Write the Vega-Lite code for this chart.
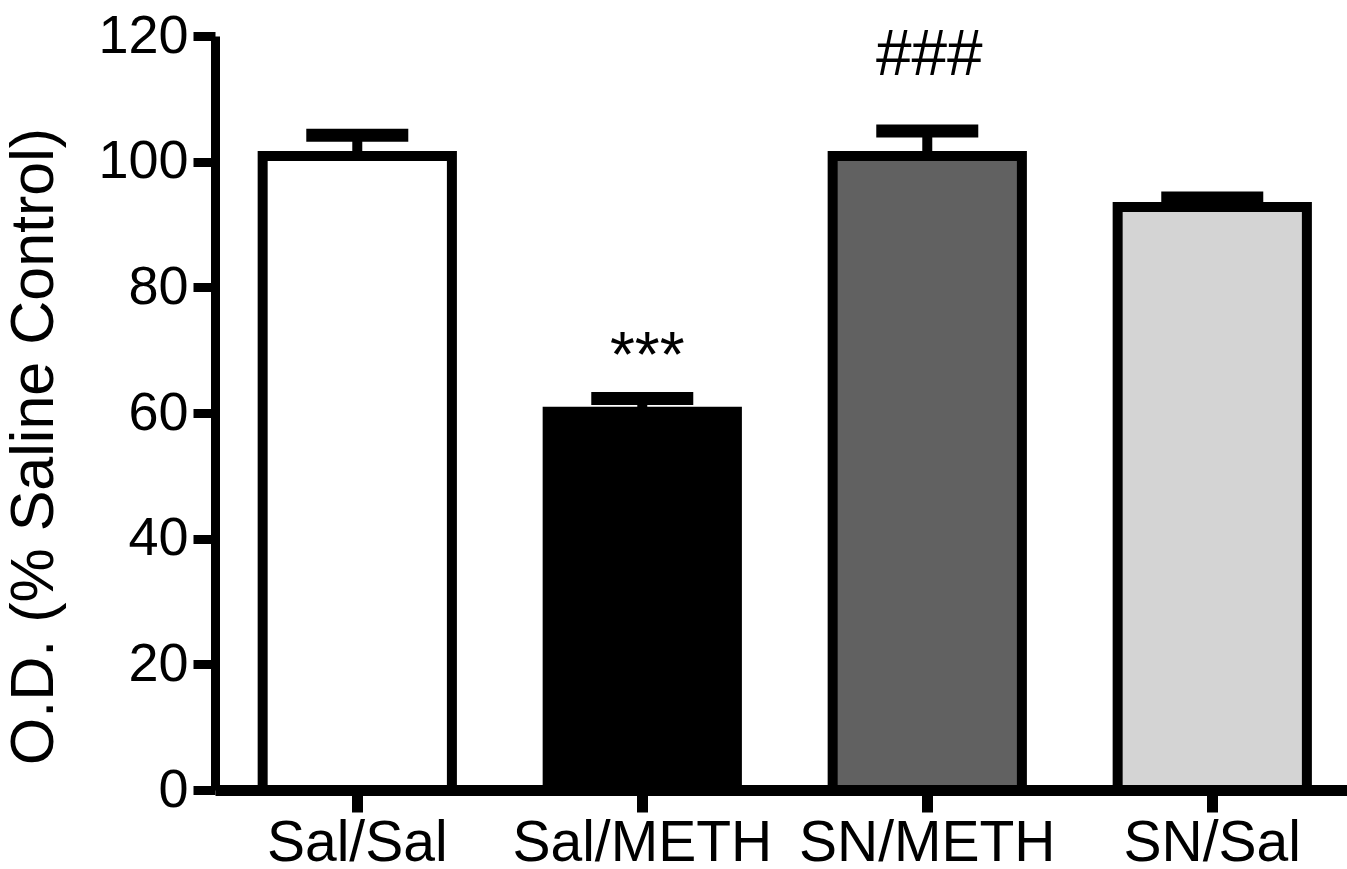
{
  "$schema": "https://vega.github.io/schema/vega-lite/v6.json",
  "width": 1132,
  "height": 754,
  "autosize": "none",
  "padding": {"left": 215, "top": 36, "right": 0, "bottom": 79},
  "background": "white",
  "config": {"view": {"stroke": null}, "font": "Liberation Sans"},
  "data": {
    "values": [
      {"group": "Sal/Sal", "mean": 100.9, "err": 104.2, "sig": ""},
      {"group": "Sal/METH", "mean": 60.2, "err": 62.3, "sig": "***"},
      {"group": "SN/METH", "mean": 100.9, "err": 104.9, "sig": "###"},
      {"group": "SN/Sal", "mean": 92.8, "err": 94.2, "sig": ""}
    ]
  },
  "encoding": {
    "x": {
      "field": "group",
      "type": "nominal",
      "sort": ["Sal/Sal", "Sal/METH", "SN/METH", "SN/Sal"],
      "scale": {"paddingInner": 0.336, "paddingOuter": 0.154, "align": 0.543},
      "axis": {
        "title": null,
        "labelAngle": 0,
        "labelFontSize": 57,
        "labelLimit": 0,
        "labelColor": "black",
        "labelPadding": 3,
        "domainColor": "black",
        "domainWidth": 11,
        "tickColor": "black",
        "tickWidth": 11,
        "tickSize": 22
      }
    }
  },
  "layer": [
    {
      "mark": {"type": "bar", "stroke": "black", "strokeWidth": 10},
      "encoding": {
        "y": {
          "field": "mean",
          "type": "quantitative",
          "scale": {"domain": [0, 120], "nice": false},
          "axis": {
            "values": [0, 20, 40, 60, 80, 100, 120],
            "title": "O.D. (% Saline Control)",
            "titleFontSize": 61,
            "titleFontWeight": "normal",
            "titleColor": "black",
            "titleX": -150,
            "titleY": 410,
            "grid": false,
            "labelFontSize": 54,
            "labelColor": "black",
            "labelPadding": 5,
            "domainColor": "black",
            "domainWidth": 9,
            "tickColor": "black",
            "tickWidth": 9,
            "tickSize": 22
          }
        },
        "fill": {
          "field": "group",
          "type": "nominal",
          "scale": {
            "domain": ["Sal/Sal", "Sal/METH", "SN/METH", "SN/Sal"],
            "range": ["#ffffff", "#000000", "#616161", "#d4d4d4"]
          },
          "legend": null
        }
      }
    },
    {
      "mark": {"type": "rule", "strokeWidth": 10, "color": "black"},
      "encoding": {
        "y": {"field": "mean", "type": "quantitative"},
        "y2": {"field": "err"}
      }
    },
    {
      "mark": {"type": "tick", "thickness": 13, "size": 102, "color": "black", "opacity": 1},
      "encoding": {
        "y": {"field": "err", "type": "quantitative"}
      }
    },
    {
      "transform": [{"filter": "datum.sig == '***'"}],
      "mark": {"type": "text", "fontSize": 64, "baseline": "alphabetic", "dy": -22, "dx": 5, "color": "black"},
      "encoding": {
        "y": {"field": "err", "type": "quantitative"},
        "text": {"field": "sig"}
      }
    },
    {
      "transform": [{"filter": "datum.sig == '###'"}],
      "mark": {"type": "text", "fontSize": 64, "baseline": "alphabetic", "dy": -56, "dx": 2, "color": "black"},
      "encoding": {
        "y": {"field": "err", "type": "quantitative"},
        "text": {"field": "sig"}
      }
    }
  ]
}
